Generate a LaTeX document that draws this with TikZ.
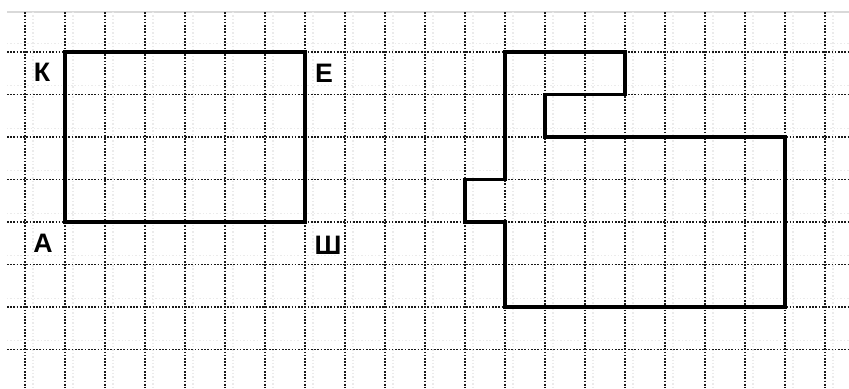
\documentclass[tikz,border=0pt]{standalone}
\usepackage{fontspec}
\setsansfont{Liberation Sans}
\usetikzlibrary{positioning}
\tikzset{%
  % Specifications for style of the squared paper and the figures:
   gridline/.style = {black!90, line width=1.3pt, dash pattern=on 1.2pt off 1.1pt},
  ghostline/.style = {black!8, line width=0.8pt, dash pattern=on 1pt off 1.4pt},
    topline/.style = {black!15, line width=0.8pt},
     figure/.style = {black, line width=2.2pt, line join=miter},
     letter/.style = {inner sep=0pt, font=\sffamily\bfseries\fontsize{19}{22}\selectfont},
}
\begin{document}
\begin{tikzpicture}[x=1cm, y=-1.0625cm]
  \useasboundingbox (-0.625,-1.2235) rectangle (20.6,7.906);
  % squared paper
  \draw[topline] (-0.45,-0.94) -- (20.6,-0.94);
  \foreach \i in {0,...,20}
    \draw[ghostline] (\i+0.2,-0.94) -- (\i+0.2,7.906);
  \foreach \j in {0,...,7}
    \draw[ghostline] (-0.45,\j-0.21) -- (20.6,\j-0.21);
  \foreach \i in {0,...,20}
    \draw[gridline] (\i,-0.94) -- (\i,7.906);
  \foreach \j in {0,...,7}
    \draw[gridline] (-0.45,\j) -- (20.6,\j);

  % Corners of the rectangle
  \coordinate (K)  at (1,0);
  \coordinate (E)  at (7,0);
  \coordinate (Sh) at (7,4);
  \coordinate (A)  at (1,4);
  \draw[figure] (K) -- (E) -- (Sh) -- (A) -- cycle;

  % Letters at the corners
  \node (labelK)  [letter] at (0.425,0.48) {К};
  \node (labelE)  [letter] at (7.475,0.49) {Е};
  \node (labelA)  [letter] at (0.45,4.5)   {А};
  \node (labelSh) [letter] at (7.575,4.56) {Ш};

  % Second figure
  \draw[figure] (12,0) -- (15,0) -- (15,1) -- (13,1) -- (13,2) -- (19,2)
                -- (19,6) -- (12,6) -- (12,4) -- (11,4) -- (11,3) -- (12,3) -- cycle;
\end{tikzpicture}
\end{document}
